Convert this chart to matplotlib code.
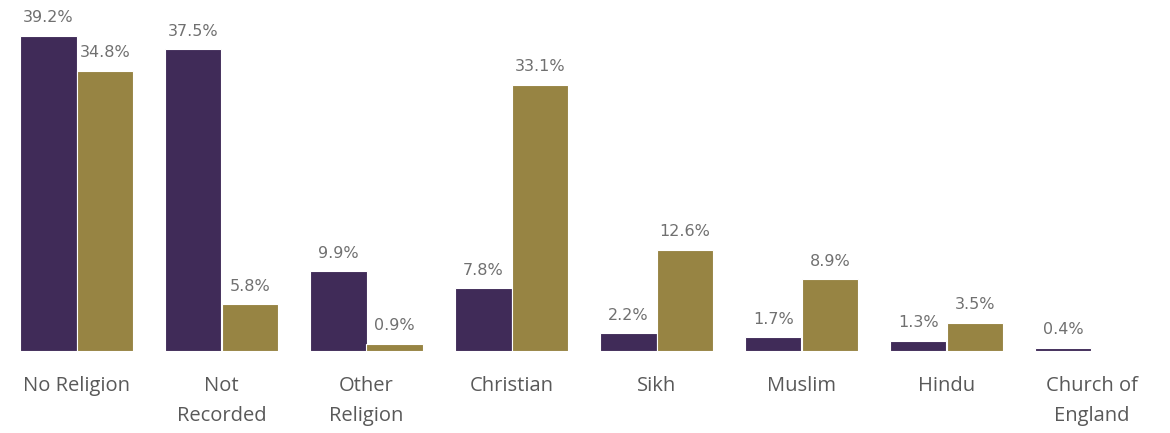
import numpy as np
import matplotlib.pyplot as plt

categories = ["No Religion", "Not\nRecorded", "Other\nReligion", "Christian",
              "Sikh", "Muslim", "Hindu", "Church of\nEngland"]
series_a = [39.2, 37.5, 9.9, 7.8, 2.2, 1.7, 1.3, 0.4]
series_b = [34.8, 5.8, 0.9, 33.1, 12.6, 8.9, 3.5, None]

purple = "#402b58"
gold = "#978443"

fig = plt.figure(figsize=(11.7, 4.33), dpi=100)
ax = fig.add_axes([4 / 1170, 82 / 433, 1160 / 1170, 338 / 433])

x = np.arange(len(categories))
w = 0.39

for i, (a, b) in enumerate(zip(series_a, series_b)):
    ax.bar(x[i] - w / 2, a, width=w, color=purple, edgecolor="white", linewidth=0.8)
    ax.text(x[i] - w / 2, a + 1.3, f"{a}%", ha="center", va="bottom",
            fontsize=11.5, color="#707070", family="DejaVu Sans")
    if b is not None:
        ax.bar(x[i] + w / 2, b, width=w, color=gold, edgecolor="white", linewidth=0.8)
        ax.text(x[i] + w / 2, b + 1.3, f"{b}%", ha="center", va="bottom",
                fontsize=11.5, color="#707070", family="DejaVu Sans")

ax.set_xlim(-0.5, len(categories) - 0.5)
ax.set_ylim(0, 42)
ax.set_xticks(x)
ax.set_xticklabels(categories, fontsize=14.5, color="#595959", family="Open Sans",
                   linespacing=1.65)
ax.tick_params(axis="x", length=0, pad=18)
ax.set_yticks([])
for s in ax.spines.values():
    s.set_visible(False)

fig.savefig("out.png", dpi=100)
